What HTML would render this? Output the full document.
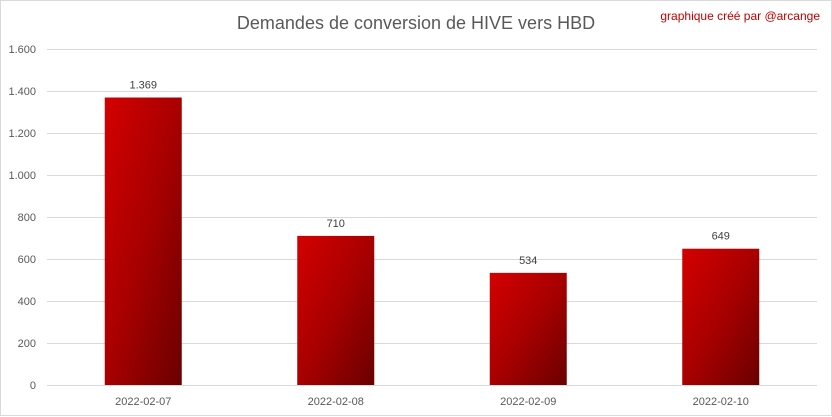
<!DOCTYPE html>
<html><head><meta charset="utf-8"><style>
html,body{margin:0;padding:0;background:#fff;}
svg{display:block;font-family:"Liberation Sans",sans-serif;}
</style></head><body>
<svg id="c" width="832" height="417" viewBox="0 0 832 417">
<defs><linearGradient id="g" x1="0" y1="0" x2="1" y2="1">
<stop offset="0" stop-color="#d40000"/><stop offset="0.5" stop-color="#a80000"/><stop offset="1" stop-color="#6a0000"/></linearGradient></defs>
<rect x="0.5" y="0.5" width="831" height="415" fill="#fff" stroke="#d9d9d9"/>
<text x="416" y="29" text-anchor="middle" font-size="18" fill="#595959">Demandes de conversion de HIVE vers HBD</text>
<text x="820" y="20" text-anchor="end" font-size="12" fill="#c00000">graphique créé par @arcange</text>
<g id="grid"></g><g id="bars"></g>
</svg>
<script>
const categories=["2022-02-07","2022-02-08","2022-02-09","2022-02-10"];
const values=[1369,710,534,649];
const valueLabels=["1.369","710","534","649"];
const yTicks=[0,200,400,600,800,1000,1200,1400,1600];
const yTickLabels=["0","200","400","600","800","1.000","1.200","1.400","1.600"];
const NS="http://www.w3.org/2000/svg";
const L=47,R=817,T=49,B=385,ymax=1600;
const y=v=>B-(v/ymax)*(B-T);
const band=(R-L)/categories.length;
const x=i=>L+band*(i+0.5);
const grid=document.getElementById('grid'),bars=document.getElementById('bars');
function mk(t,a,p){const e=document.createElementNS(NS,t);for(const k in a)e.setAttribute(k,a[k]);p.appendChild(e);return e;}
yTicks.forEach((v,i)=>{
 const l=mk('line',{x1:L,x2:R,y1:y(v)+0.5,y2:y(v)+0.5,stroke:'#d9d9d9','stroke-width':1},grid);
 
 
 const t=mk('text',{x:36,y:y(v)+4,'text-anchor':'end','font-size':11,fill:'#595959'},grid);
 t.textContent=yTickLabels[i];
 
 
});
const bw=77;
categories.forEach((c,i)=>{
 const r=mk('rect',{x:x(i)-bw/2,y:y(values[i]),width:bw,height:B-y(values[i]),fill:'url(#g)'},bars);
 
 
 const v=mk('text',{x:x(i),y:y(values[i])-9,'text-anchor':'middle','font-size':11,fill:'#404040'},bars);
 v.textContent=valueLabels[i];
 
 
 const t=mk('text',{x:x(i),y:405,'text-anchor':'middle','font-size':11,fill:'#595959'},bars);
 t.textContent=c;
 
 
});
</script>
</body></html>
